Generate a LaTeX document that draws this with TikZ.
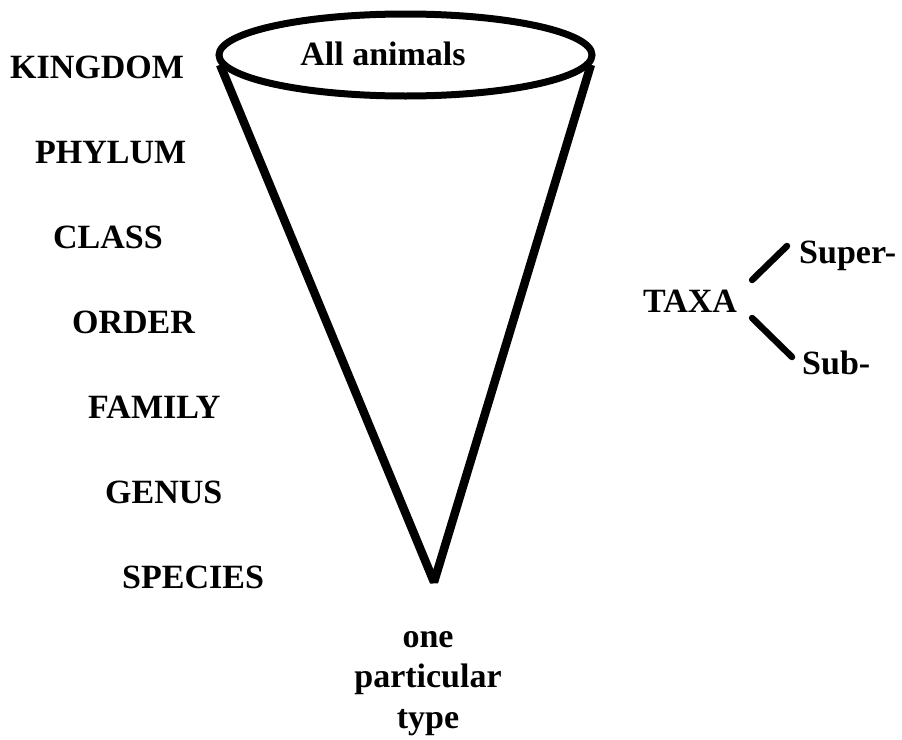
\documentclass[tikz,border=0pt]{standalone}
\usepackage{fontspec}
\setmainfont{Liberation Serif}
\usetikzlibrary{shapes.geometric}

\begin{document}
\begin{tikzpicture}[
  x=1pt, y=-1pt,
  font=\fontsize{34}{40.5}\selectfont\bfseries,
  rank/.style={anchor=base west, inner sep=0pt},
  label/.style={anchor=base, inner sep=0pt, align=center},
  rim/.style={
    ellipse,
    draw=black,
    line width=7pt,
    minimum width=373pt,
    minimum height=82pt,
    inner sep=0pt
  },
  cone/.style={line width=8.5pt, line join=bevel},
  branch/.style={line width=6.5pt, line cap=round}
]
\useasboundingbox (0,0) rectangle (902,739);

% Ranks down the left side, each set a little further in.
\node[rank] (kingdom) at (10,78) {KINGDOM};
\node[rank] (phylum) at (35,163) {PHYLUM};
\node[rank] (class) at (53,248) {CLASS};
\node[rank] (order) at (72,333) {ORDER};
\node[rank] (family) at (88,418) {FAMILY};
\node[rank] (genus) at (105,503) {GENUS};
\node[rank] (species) at (122,588) {SPECIES};

% The cone, wide at the kingdom and narrowing to a single type.
\node[rim] (top) at (405.5,55) {};
\node[label] (animals) at (383,65) {All animals};
\coordinate (tip) at (434,582);
\draw[cone] (top.183) -- (tip) -- (top.357);
\node[label] (type) at (428,728) {one\\particular\\type};

% Prefixes that give intermediate taxa.
\node[label] (taxa) at (690,312) {TAXA};
\node[rank] (super) at (799,263) {Super-};
\node[rank] (sub) at (802,374) {Sub-};
\draw[branch] ([shift={(15,-32)}]taxa.base east) -- ([shift={(-12,-17)}]super.base west);
\draw[branch] ([shift={(15,6)}]taxa.base east) -- ([shift={(-10,-17)}]sub.base west);

\end{tikzpicture}
\end{document}
